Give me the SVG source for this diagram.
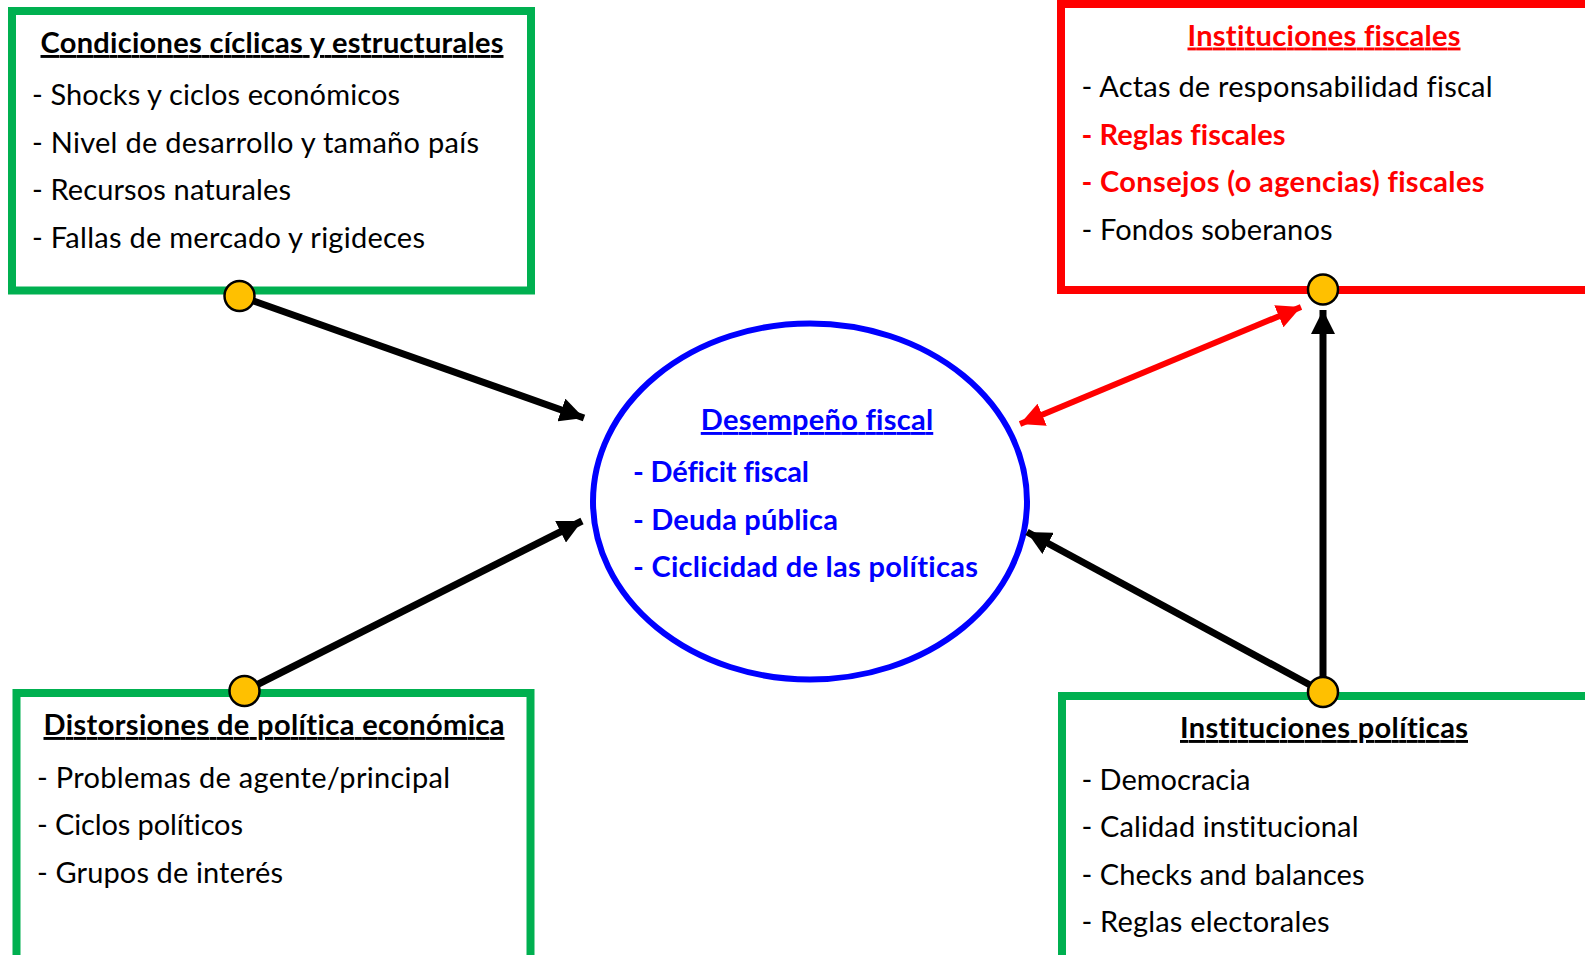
<svg xmlns="http://www.w3.org/2000/svg" width="1585" height="955" viewBox="0 0 1585 955">
<style>
text{font-family:Lato,"Liberation Sans",sans-serif;font-size:29px;fill:#000;font-variant-ligatures:none}
.t{font-weight:bold;text-anchor:middle;text-decoration:underline}
.b{font-weight:bold}
.red{fill:#FF0000}
.blue{fill:#0000FF}
.gbox{fill:#fff;stroke:#00B050;stroke-width:8}
.rbox{fill:#fff;stroke:#FF0000;stroke-width:8}
.dot{fill:#FFC000;stroke:#000;stroke-width:2.5}
.ln{stroke:#000;stroke-width:7;fill:none}
.rln{stroke:#FF0000;stroke-width:6;fill:none}
</style>
<defs>
<marker id="ah" markerUnits="userSpaceOnUse" markerWidth="26" markerHeight="24" refX="24" refY="12" orient="auto"><path d="M0,0 L24,12 L0,24 Z" fill="#000"/></marker>
<marker id="rh" markerUnits="userSpaceOnUse" markerWidth="26" markerHeight="24" refX="24" refY="12" orient="auto-start-reverse"><path d="M0,0 L24,12 L0,24 Z" fill="#FF0000"/></marker>
</defs>
<rect width="1585" height="955" fill="#fff"/>
<g id="condiciones">
<rect class="gbox" x="12" y="11" width="519" height="279.5"/>
<text class="t" x="272" y="53" textLength="463">Condiciones cíclicas y estructurales</text>
<text x="32" y="105" textLength="368">- Shocks y ciclos económicos</text>
<text x="32" y="152.5" textLength="447">- Nivel de desarrollo y tamaño país</text>
<text x="32" y="200" textLength="259">- Recursos naturales</text>
<text x="32" y="247.5" textLength="393">- Fallas de mercado y rigideces</text>
</g>
<g id="inst-fiscales">
<rect class="rbox" x="1061" y="4" width="530" height="286"/>
<text class="t red" x="1324" y="45.5" textLength="273">Instituciones fiscales</text>
<text x="1081.5" y="97" textLength="411">- Actas de responsabilidad fiscal</text>
<text class="b red" x="1081.5" y="144.5" textLength="204">- Reglas fiscales</text>
<text class="b red" x="1081.5" y="192" textLength="403">- Consejos (o agencias) fiscales</text>
<text x="1081.5" y="239.5" textLength="251">- Fondos soberanos</text>
</g>
<g id="distorsiones">
<rect class="gbox" x="16.5" y="693" width="514" height="280"/>
<text class="t" x="274" y="735" textLength="461">Distorsiones de política económica</text>
<text x="37" y="787.5" textLength="413">- Problemas de agente/principal</text>
<text x="37" y="835" textLength="206">- Ciclos políticos</text>
<text x="37" y="882.5" textLength="246">- Grupos de interés</text>
</g>
<g id="inst-politicas">
<rect class="gbox" x="1062" y="696" width="530" height="280"/>
<text class="t" x="1324" y="738" textLength="288">Instituciones políticas</text>
<text x="1081.5" y="789.5" textLength="169">- Democracia</text>
<text x="1081.5" y="837" textLength="277">- Calidad institucional</text>
<text x="1081.5" y="884.5" textLength="283">- Checks and balances</text>
<text x="1081.5" y="932" textLength="248">- Reglas electorales</text>
</g>
<g id="desempeno">
<ellipse cx="810" cy="501.5" rx="217" ry="178" fill="#fff" stroke="#0000FF" stroke-width="6"/>
<text class="t blue" x="817" y="430" textLength="232.5">Desempeño fiscal</text>
<text class="b blue" x="633" y="481.5" textLength="176">- Déficit fiscal</text>
<text class="b blue" x="633" y="530" textLength="205">- Deuda pública</text>
<text class="b blue" x="633" y="577" textLength="345">- Ciclicidad de las políticas</text>
</g>
<g id="connectors">
<line class="ln" x1="239.5" y1="296" x2="584" y2="418" marker-end="url(#ah)"/>
<line class="ln" x1="244.5" y1="691" x2="582" y2="521" marker-end="url(#ah)"/>
<line class="ln" x1="1323" y1="692" x2="1027" y2="532" marker-end="url(#ah)"/>
<line class="ln" x1="1323" y1="692" x2="1323" y2="310" marker-end="url(#ah)"/>
<line class="rln" x1="1020" y1="424" x2="1301" y2="307" marker-start="url(#rh)" marker-end="url(#rh)"/>
</g>
<g id="dots">
<circle class="dot" cx="239.5" cy="296" r="15"/>
<circle class="dot" cx="1323" cy="289.5" r="15"/>
<circle class="dot" cx="244.5" cy="691" r="15"/>
<circle class="dot" cx="1323" cy="692" r="15"/>
</g>
</svg>
